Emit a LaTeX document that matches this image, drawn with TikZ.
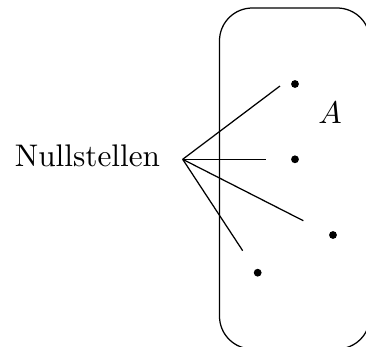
\documentclass[tikz,border=0pt]{standalone}
\usetikzlibrary{positioning}

\tikzset{
    zero/.style={circle, fill, inner sep=0pt, minimum size=2.5pt},
}

\begin{document}
\begin{tikzpicture}[x=0.32pt, y=-0.32pt]
    \useasboundingbox (0,0) rectangle (366,347);

    % the set A
    \draw[rounded corners=10.5pt] (219.5,8) rectangle (370,349);
    \node (set) at (330,113) {$A$};

    % the zeros
    \node[zero] (z1) at (295,84) {};
    \node[zero] (z2) at (295,159.3) {};
    \node[zero] (z3) at (333,235) {};
    \node[zero] (z4) at (257.7,272.7) {};

    \node[anchor=base] (label) at (87.5,166) {Nullstellen};
    \coordinate (hub) at (182.7,159.3);

    \coordinate (e1) at (280,86);
    \coordinate (e2) at (265.7,159.3);
    \coordinate (e3) at (303.3,220.7);
    \coordinate (e4) at (242.7,250.7);

    \foreach \i in {1,...,4}
        \draw (hub) -- (e\i);
\end{tikzpicture}
\end{document}
